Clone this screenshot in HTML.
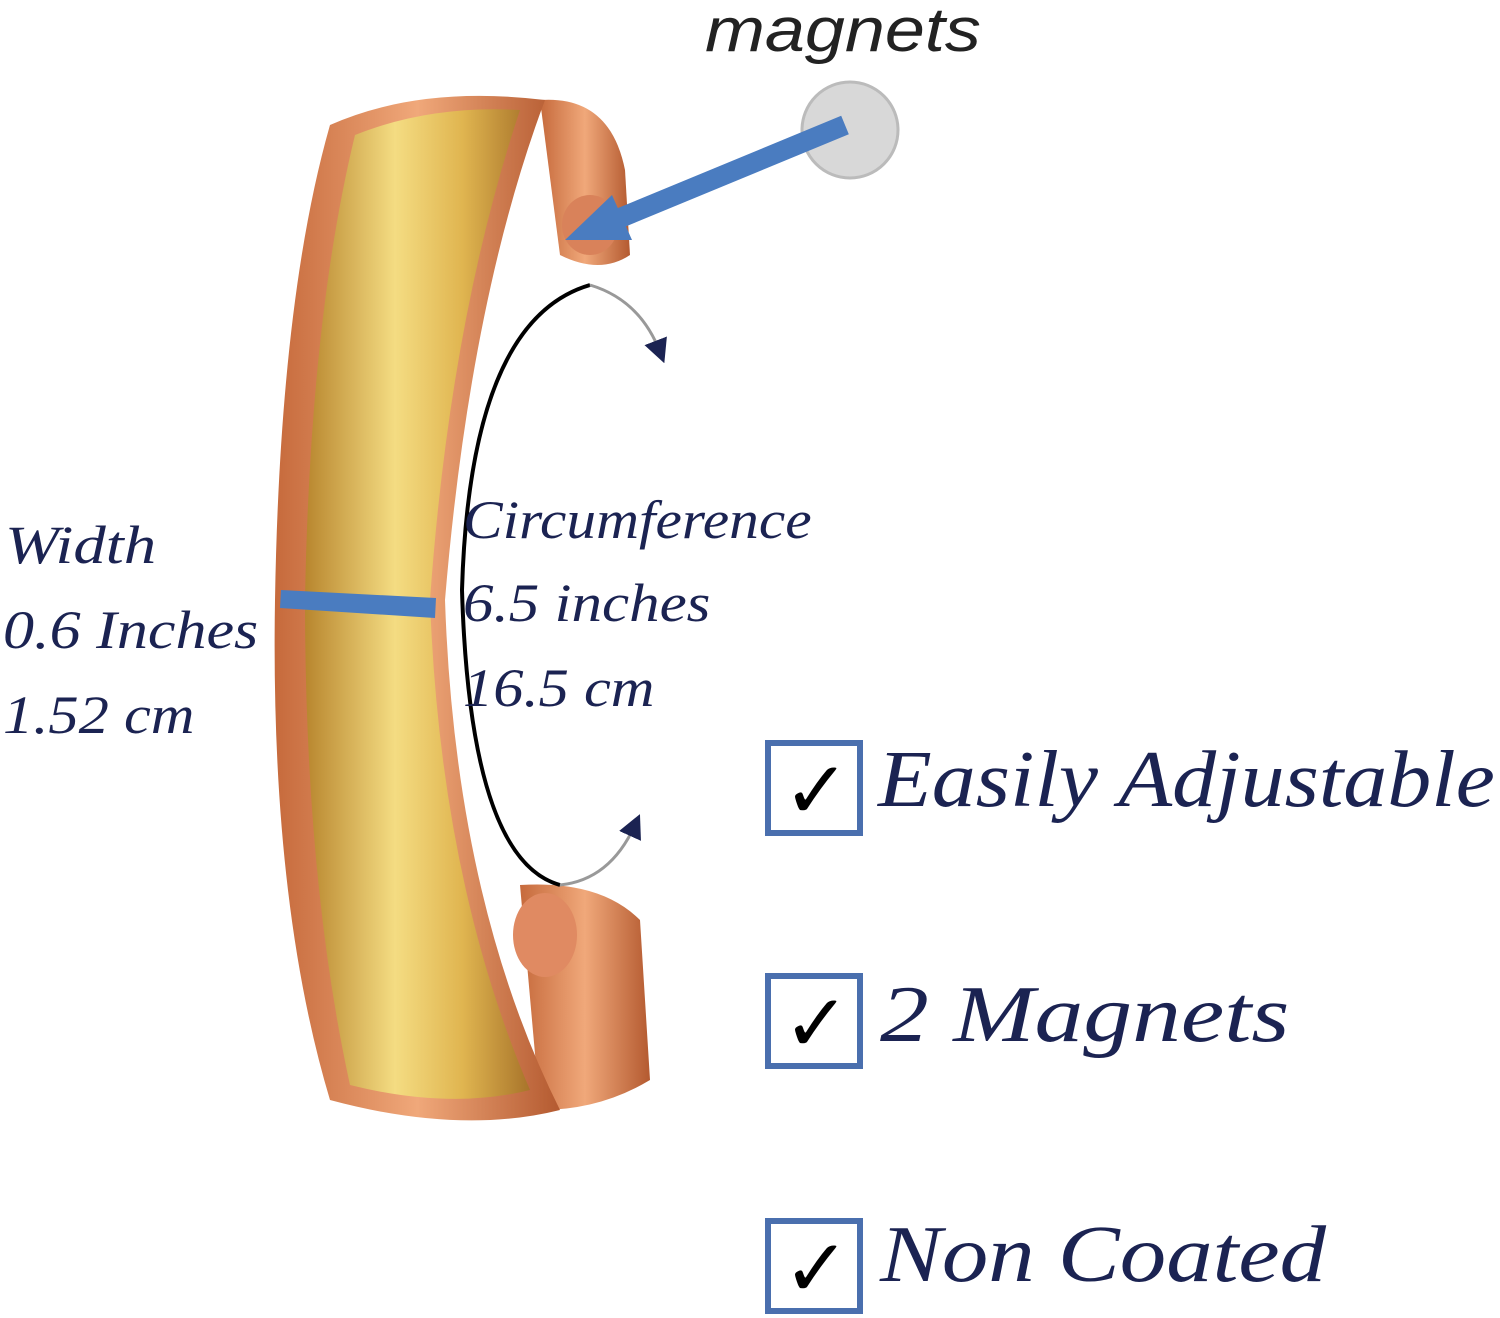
<!DOCTYPE html>
<html><head><meta charset="utf-8"><style>
html,body{margin:0;padding:0;background:#fff;}
body{width:1500px;height:1318px;position:relative;overflow:hidden;}
.t{position:absolute;font-family:"Liberation Serif",serif;font-style:italic;color:#1b2352;white-space:nowrap;line-height:1;transform-origin:0 0;}
.box{position:absolute;width:86px;height:84px;border:6px solid #4a6fae;background:#fff;}
.box span{position:absolute;left:12px;top:-2px;font-family:"DejaVu Sans",sans-serif;font-size:80px;font-weight:bold;color:#000;}
</style></head><body>
<svg width="1500" height="1318" style="position:absolute;left:0;top:0">
<defs>
<linearGradient id="gold" x1="0" x2="1" y1="0" y2="0">
<stop offset="0" stop-color="#b8862e"/><stop offset="0.4" stop-color="#f4dc82"/><stop offset="0.7" stop-color="#e0b550"/><stop offset="1" stop-color="#a8742a"/></linearGradient>
<linearGradient id="cop" x1="0" x2="1"><stop offset="0" stop-color="#c66a3c"/><stop offset="0.5" stop-color="#f0a87a"/><stop offset="1" stop-color="#b45a30"/></linearGradient>
<marker id="ah" markerWidth="8" markerHeight="8" refX="4" refY="4" orient="auto"><path d="M0,0 L8,4 L0,8 z" fill="#1b2352"/></marker>
</defs>
<path d="M540,100 Q610,95 625,170 L630,255 Q600,275 560,255 Z" fill="url(#cop)"/>
<path d="M520,885 Q600,880 640,920 L650,1080 Q600,1110 540,1110 Z" fill="url(#cop)"/>
<path d="M330,125 Q420,85 545,100 Q470,300 445,600 Q455,900 560,1110 Q460,1135 330,1100 Q270,900 275,600 Q280,300 330,125 Z" fill="url(#cop)"/>
<path d="M355,135 Q430,105 520,110 Q450,320 430,600 Q440,880 530,1090 Q450,1110 350,1085 Q305,880 305,600 Q310,320 355,135 Z" fill="url(#gold)"/>
<ellipse cx="590" cy="225" rx="28" ry="30" fill="#d9825a"/>
<ellipse cx="545" cy="935" rx="32" ry="42" fill="#e08a62"/>
<path d="M590,285 Q470,320 462,590 Q470,860 560,885" fill="none" stroke="#000" stroke-width="4"/>
<path d="M590,285 Q640,300 660,352" fill="none" stroke="#999" stroke-width="3" marker-end="url(#ah)"/>
<path d="M560,885 Q610,880 635,825" fill="none" stroke="#999" stroke-width="3" marker-end="url(#ah)"/>
<circle cx="850" cy="130" r="48" fill="#d8d8d8" stroke="#bbb" stroke-width="3"/>
<line x1="845" y1="125" x2="620" y2="218" stroke="#4a7cc0" stroke-width="20"/>
<path d="M565,240 L612,195 L632,240 Z" fill="#4a7cc0"/>
<path d="M281,590 L436,598 L435,618 L280,608 Z" fill="#4a7cc0"/>
</svg>
<div class="t" style="left:705px;top:0px;font-family:'Liberation Sans',sans-serif;font-size:62px;color:#222;transform:scaleX(1.16)">magnets</div>
<div class="t" style="left:5px;top:518px;font-size:54px;transform:scaleX(1.2)">Width</div>
<div class="t" style="left:3px;top:603px;font-size:54px;transform:scaleX(1.15)">0.6 Inches</div>
<div class="t" style="left:3px;top:688px;font-size:54px;transform:scaleX(1.12)">1.52 cm</div>
<div class="t" style="left:463px;top:493px;font-size:54px;transform:scaleX(1.1)">Circumference</div>
<div class="t" style="left:463px;top:576px;font-size:54px;transform:scaleX(1.13)">6.5 inches</div>
<div class="t" style="left:463px;top:661px;font-size:54px;transform:scaleX(1.12)">16.5 cm</div>
<div class="box" style="left:765px;top:740px;"><span>✓</span></div>
<div class="box" style="left:765px;top:973px;"><span>✓</span></div>
<div class="box" style="left:765px;top:1218px;"><span>✓</span></div>
<div class="t" style="left:878px;top:740px;font-size:80px;transform:scaleX(1.1)">Easily Adjustable</div>
<div class="t" style="left:880px;top:975px;font-size:80px;transform:scaleX(1.22)">2 Magnets</div>
<div class="t" style="left:880px;top:1215px;font-size:80px;transform:scaleX(1.16)">Non Coated</div>
</body></html>
